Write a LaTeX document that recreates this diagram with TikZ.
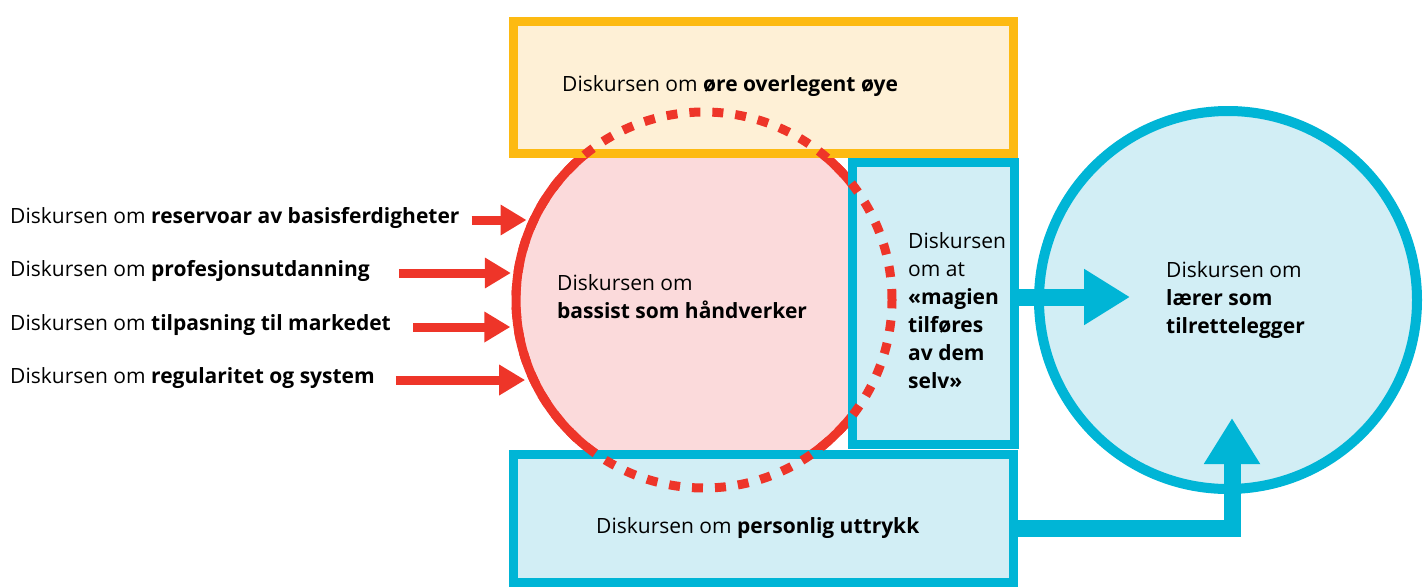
\documentclass[tikz,border=0pt]{standalone}
\usepackage{fontspec}
\setmainfont{Open Sans}
\usetikzlibrary{positioning,arrows.meta}

\definecolor{discred}{HTML}{EE3529}
\definecolor{discpink}{HTML}{FBDADB}
\definecolor{discyellow}{HTML}{FDBA12}
\definecolor{disccream}{HTML}{FEF0D6}
\definecolor{discblue}{HTML}{00B5D6}
\definecolor{disclight}{HTML}{D2EEF5}

\begin{document}
\begin{tikzpicture}[x=1pt,y=-1pt,
  box/.style={draw=discblue,fill=disclight,line width=9pt,inner sep=0pt},
  ring/.style={circle,inner sep=0pt},
  txt/.style={font=\fontsize{21}{28}\selectfont,align=left,inner sep=0pt,anchor=west},
  row/.style={txt,text height=10pt,text depth=4pt},
  redarr/.style={discred,line width=9pt,shorten >=3pt,-{Triangle[length=26pt,width=29pt]}},
  bluearr/.style={discblue,line width=17pt,-{Triangle[length=46pt,width=53pt]}}
]
\useasboundingbox (0,0) rectangle (1427,587);
% the two discourse circles
\node[ring,fill=discpink,draw=discred,line width=9pt,minimum size=376pt] (bass) at (704,300) {};
\node[ring,fill=disclight,draw=discblue,line width=10pt,minimum size=378pt] (teach) at (1228,300) {};
% the boxes
\node[box,draw=discyellow,fill=disccream,minimum width=500pt,minimum height=132pt] (eye) at (763,87) {};
\node[box,minimum width=162pt,minimum height=282pt] (magic) at (933,303) {};
\node[box,minimum width=500pt,minimum height=128pt] (self) at (763,518) {};
% dashed part of the red circle, over the boxes
\draw[discred,line width=9pt,dash pattern=on 11pt off 12pt] (bass.center) circle[radius=188pt];

\node[row] (eyetxt) at (562,88) {Diskursen om \textbf{øre overlegent øye}};
\node[txt] (basstxt) at (557,297) {Diskursen om\\\textbf{bassist som håndverker}};
\node[txt] (magictxt) at (908,311) {Diskursen\\om at\\\textbf{«magien}\\\textbf{tilføres}\\\textbf{av dem}\\\textbf{selv»}};
\node[txt] (teachtxt) at (1166,300) {Diskursen om\\\textbf{lærer som}\\\textbf{tilrettelegger}};
\node[row] (selftxt) at (596,530) {Diskursen om \textbf{personlig uttrykk}};

\node[row] (r1) at (10,220) {Diskursen om \textbf{reservoar av basisferdigheter}};
\node[row] (r2) at (10,273) {Diskursen om \textbf{profesjonsutdanning}};
\node[row] (r3) at (10,327) {Diskursen om \textbf{tilpasning til markedet}};
\node[row] (r4) at (10,380) {Diskursen om \textbf{regularitet og system}};

% arrows
\draw[redarr] ([xshift=12pt]r1.east) -- (r1 -| bass.155.4);
\draw[redarr] ([xshift=29pt]r2.east) -- (r2 -| bass.171.9);
\draw[redarr] ([xshift=22pt]r3.east) -- (r3 -| bass.188.1);
\draw[redarr] ([xshift=21pt]r4.east) -- (r4 -| bass.204.6);

\coordinate (tipA) at (1130,297);
\draw[bluearr] (magic.east |- tipA) -- (tipA);
\coordinate (bend) at (1232,528);
\coordinate (tipB) at (1232,418);
\draw[bluearr] (self.east |- bend) -- (bend) -- (tipB);
\end{tikzpicture}
\end{document}
